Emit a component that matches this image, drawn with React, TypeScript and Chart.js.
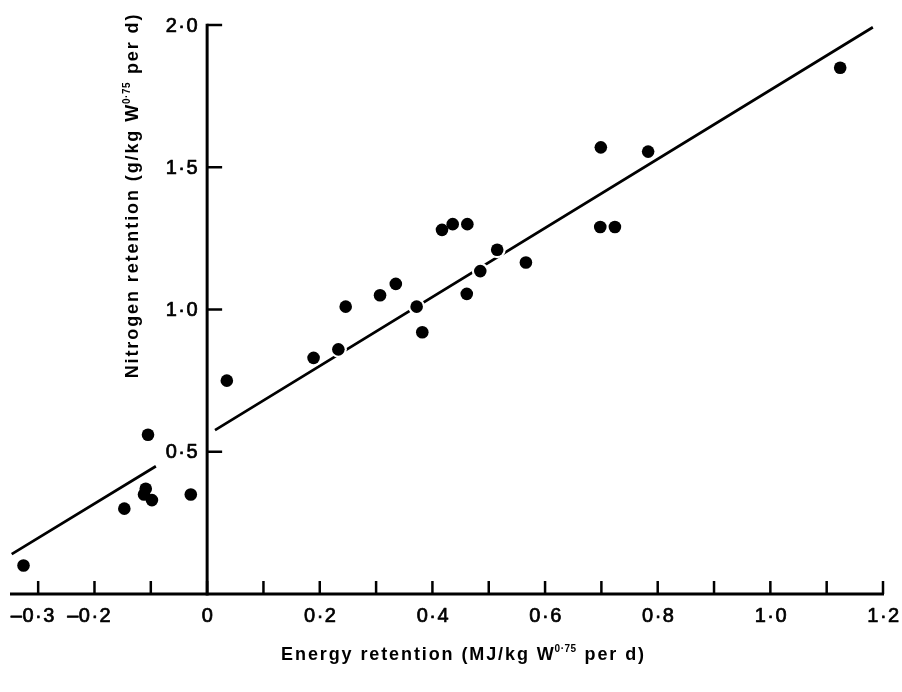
import React, { useEffect, useRef } from 'react';
import { Chart, registerables } from 'chart.js';

Chart.register(...registerables);

// ---- Data ----
const energyRetention = [
  -0.326, -0.147, -0.105, -0.109, -0.112, -0.098, -0.029, 0.035,
  0.189, 0.233, 0.246, 0.307, 0.335, 0.372, 0.382, 0.417, 0.436,
  0.462, 0.461, 0.485, 0.515, 0.566, 0.699, 0.783, 0.698, 0.724, 1.124,
];
const nitrogenRetention = [
  0.10, 0.30, 0.56, 0.37, 0.35, 0.33, 0.35, 0.75,
  0.83, 0.86, 1.01, 1.05, 1.09, 1.01, 0.92, 1.28, 1.30,
  1.30, 1.055, 1.135, 1.21, 1.165, 1.57, 1.555, 1.29, 1.29, 1.85,
];

// Regression line, drawn in two pieces (broken around the 0·5 label)
const fitLineX = [-0.347, -0.091, -0.04, 0.014, 1.182];
const fitLineY: (number | null)[] = [0.14, 0.449, null, 0.576, 1.992];

const X_MIN = -0.35;
const X_MAX = 1.2;
const Y_MIN = 0;
const Y_MAX = 2.0;

const xTickValues = [-0.3, -0.2, -0.1, 0, 0.1, 0.2, 0.3, 0.4, 0.5, 0.6, 0.7, 0.8, 0.9, 1.0, 1.1, 1.2];
const xTickLabels = ['–0·3', '–0·2', '', '0', '', '0·2', '', '0·4', '', '0·6', '', '0·8', '', '1·0', '', '1·2'];
const yTickValues = [0.5, 1.0, 1.5, 2.0];
const yTickLabels = ['0·5', '1·0', '1·5', '2·0'];

const xTitleParts = ['Energy retention (MJ/kg W', '0·75', ' per d)'];
const yTitleParts = ['Nitrogen retention (g/kg W', '0·75', ' per d)'];

const FONT_FAMILY = '"Liberation Sans", Arial, Helvetica, sans-serif';
const TICK_FONT = `20px ${FONT_FAMILY}`;
const TITLE_FONT = `bold 18px ${FONT_FAMILY}`;
const SUP_FONT = `bold 10px ${FONT_FAMILY}`;

function drawTitle(ctx: CanvasRenderingContext2D, parts: string[], cx: number, cy: number) {
  const c: any = ctx;
  c.letterSpacing = '1.9px';
  ctx.font = TITLE_FONT;
  const w0 = ctx.measureText(parts[0]).width;
  const w2 = ctx.measureText(parts[2]).width;
  c.letterSpacing = '0.5px';
  ctx.font = SUP_FONT;
  const w1 = ctx.measureText(parts[1]).width;
  const total = w0 + w1 + w2;
  let px = cx - total / 2;
  ctx.textAlign = 'left';
  ctx.textBaseline = 'middle';
  c.letterSpacing = '1.9px';
  ctx.font = TITLE_FONT;
  ctx.fillText(parts[0], px, cy);
  px += w0;
  c.letterSpacing = '0.5px';
  ctx.font = SUP_FONT;
  ctx.fillText(parts[1], px - 1, cy - 6);
  px += w1;
  c.letterSpacing = '1.9px';
  ctx.font = TITLE_FONT;
  ctx.fillText(parts[2], px, cy);
}

function tickText(ctx: CanvasRenderingContext2D, s: string, px: number, py: number) {
  ctx.fillText(s, px, py);
  ctx.strokeText(s, px, py);
}

const paperAxes = {
  id: 'paperAxes',
  beforeDatasetsDraw(chart: any) {
    const { ctx, scales } = chart;
    const x = scales.x;
    const y = scales.y;
    const x0 = x.getPixelForValue(0);
    const y0 = y.getPixelForValue(0);
    ctx.save();
    ctx.strokeStyle = '#000';
    ctx.fillStyle = '#000';
    ctx.lineCap = 'butt';

    // axes
    ctx.lineWidth = 3;
    ctx.beginPath();
    ctx.moveTo(x.getPixelForValue(X_MIN), y0);
    ctx.lineTo(x.getPixelForValue(X_MAX) + 1, y0);
    ctx.stroke();
    ctx.beginPath();
    ctx.moveTo(x0, y.getPixelForValue(Y_MAX) - 1.2);
    ctx.lineTo(x0, y0 + 1.5);
    ctx.stroke();

    // ticks (pointing into the plot)
    ctx.lineWidth = 2.5;
    xTickValues.forEach((v) => {
      const px = x.getPixelForValue(v);
      ctx.beginPath();
      ctx.moveTo(px, y0);
      ctx.lineTo(px, y0 - 13);
      ctx.stroke();
    });
    yTickValues.forEach((v) => {
      const py = y.getPixelForValue(v);
      ctx.beginPath();
      ctx.moveTo(x0, py);
      ctx.lineTo(x0 + 15, py);
      ctx.stroke();
    });

    // tick labels
    (ctx as any).letterSpacing = '1.5px';
    ctx.font = TICK_FONT;
    ctx.lineWidth = 0.7;
    ctx.lineJoin = 'round';
    ctx.textBaseline = 'middle';
    xTickValues.forEach((v, i) => {
      const label = xTickLabels[i];
      if (!label) return;
      const px = x.getPixelForValue(v);
      const ly = y0 + 22;
      if (label.startsWith('–')) {
        const rest = label.slice(1);
        const rw = ctx.measureText(rest).width;
        ctx.textAlign = 'center';
        tickText(ctx, rest, px + 1, ly);
        ctx.textAlign = 'right';
        tickText(ctx, '–', px + 1 - rw / 2 + 1, ly);
      } else {
        ctx.textAlign = 'center';
        tickText(ctx, label, px + 1, ly);
      }
    });
    yTickValues.forEach((v, i) => {
      const py = y.getPixelForValue(v);
      ctx.textAlign = 'right';
      tickText(ctx, yTickLabels[i], x0 - 8, py + 1);
    });

    // axis titles
    const ca = chart.chartArea;
    drawTitle(ctx, xTitleParts, (ca.left + ca.right) / 2 + 17, y0 + 61);
    ctx.save();
    ctx.translate(x0 - 74, (ca.top + ca.bottom) / 2 - 114);
    ctx.rotate(-Math.PI / 2);
    drawTitle(ctx, yTitleParts, 0, 0);
    ctx.restore();

    ctx.restore();
  },
};

export default function App() {
  const ref = useRef<HTMLCanvasElement>(null);

  useEffect(() => {
    if (!ref.current) return;
    const points = energyRetention.map((v, i) => ({ x: v, y: nitrogenRetention[i] }));
    const line = fitLineX.map((v, i) => ({ x: v, y: fitLineY[i] }));
    const chart = new Chart(ref.current, {
      type: 'scatter',
      data: {
        datasets: [
          {
            label: 'Observations',
            data: points,
            backgroundColor: '#000',
            borderColor: '#000',
            borderWidth: 0,
            pointRadius: 6.3,
            pointHoverRadius: 6.3,
            clip: false,
            order: 0,
          } as any,
          {
            label: 'halo',
            data: points,
            backgroundColor: '#fff',
            borderColor: '#fff',
            borderWidth: 0,
            pointRadius: 8.5,
            pointHoverRadius: 8.5,
            clip: false,
            order: 1,
          } as any,
          {
            label: 'Regression',
            data: line,
            showLine: true,
            spanGaps: false,
            borderColor: '#000',
            borderWidth: 2.7,
            pointRadius: 0,
            pointHoverRadius: 0,
            fill: false,
            tension: 0,
            clip: false,
            order: 2,
          } as any,
        ],
      },
      options: {
        animation: false,
        responsive: false,
        devicePixelRatio: 1,
        events: [],
        layout: { padding: { left: 10, right: 19, top: 25, bottom: 98 } },
        plugins: { legend: { display: false }, tooltip: { enabled: false } },
        scales: {
          x: { type: 'linear', min: X_MIN, max: X_MAX, display: false },
          y: { type: 'linear', min: Y_MIN, max: Y_MAX, display: false },
        },
      },
      plugins: [paperAxes],
    });
    return () => chart.destroy();
  }, []);

  return (
    <div style={{ position: 'absolute', left: 0, top: 0, width: 902, height: 692, background: '#fff' }}>
      <canvas ref={ref} width={902} height={692} style={{ display: 'block' }} />
    </div>
  );
}
